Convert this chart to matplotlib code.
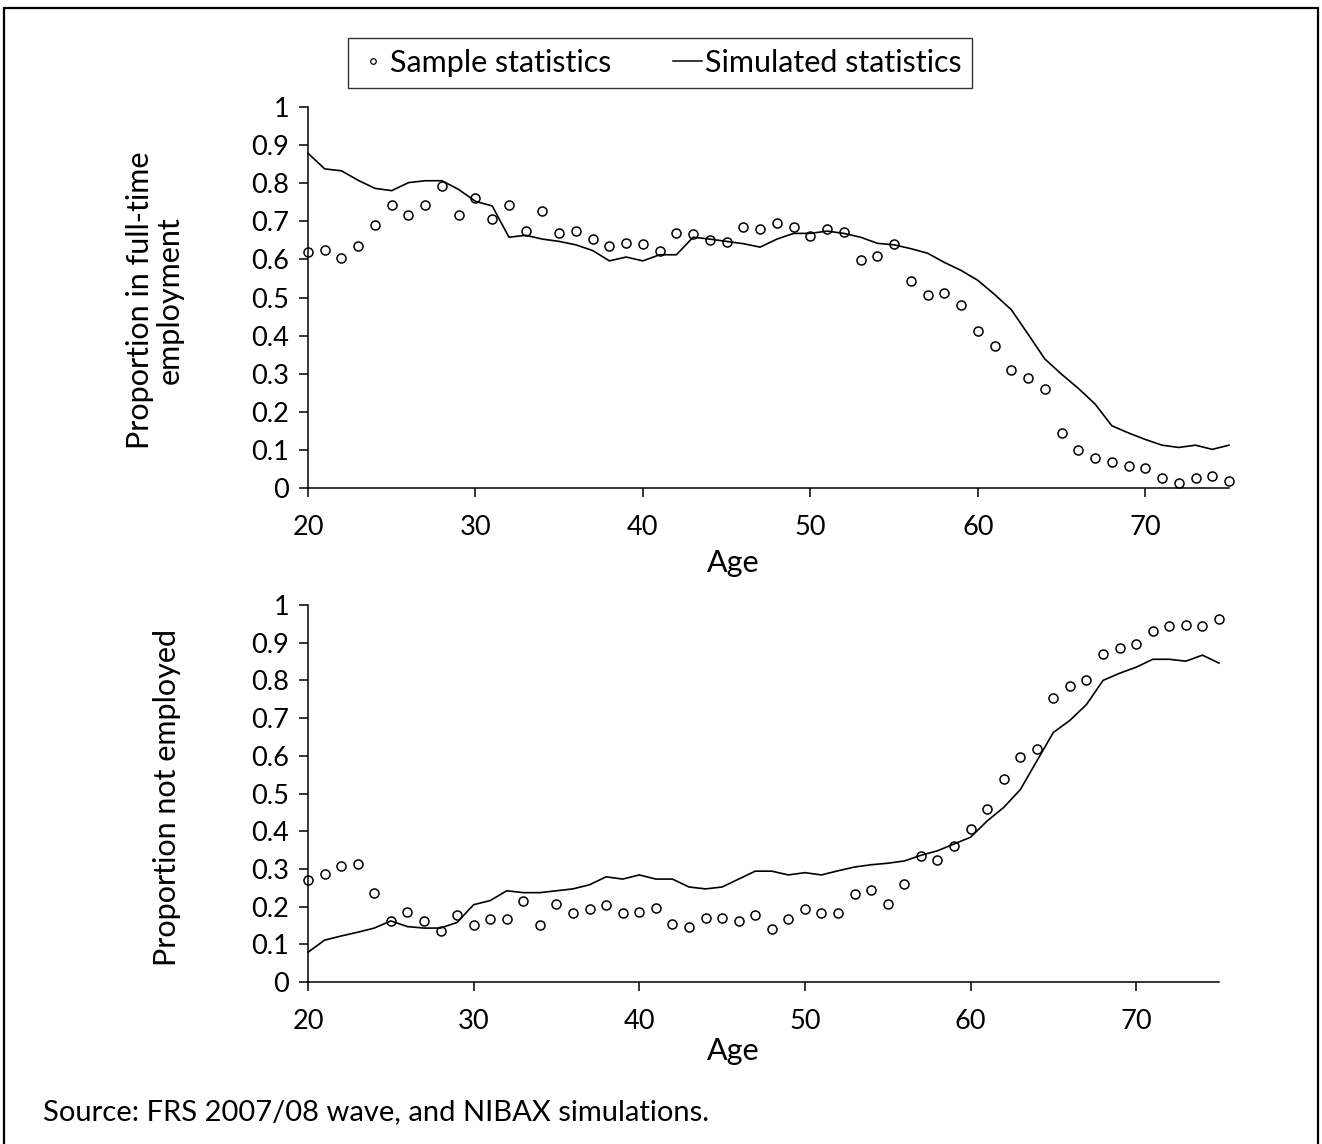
import matplotlib
matplotlib.use("Agg")
import matplotlib.pyplot as plt
from matplotlib.lines import Line2D
from matplotlib.patches import Rectangle

plt.rcParams['font.family'] = ['Lato', 'DejaVu Sans']

ages = list(range(20, 76))

fulltime_sample = [
    0.618, 0.624, 0.603, 0.635, 0.690, 0.742, 0.716, 0.742, 0.793, 0.716,
    0.762, 0.706, 0.742, 0.675, 0.727, 0.670, 0.675, 0.654, 0.635, 0.644,
    0.640, 0.623, 0.670, 0.666, 0.650, 0.645, 0.686, 0.680, 0.696, 0.686,
    0.660, 0.680, 0.671, 0.598, 0.609, 0.640, 0.542, 0.506, 0.511, 0.480,
    0.413, 0.372, 0.311, 0.290, 0.259, 0.146, 0.100, 0.079, 0.069, 0.058,
    0.054, 0.028, 0.013, 0.028, 0.033, 0.020,
]
fulltime_sim = [
    0.878, 0.837, 0.832, 0.807, 0.786, 0.780, 0.801, 0.806, 0.806, 0.783,
    0.752, 0.740, 0.658, 0.663, 0.653, 0.647, 0.638, 0.623, 0.596, 0.606,
    0.596, 0.612, 0.612, 0.658, 0.653, 0.647, 0.641, 0.632, 0.653, 0.668,
    0.668, 0.674, 0.668, 0.658, 0.642, 0.638, 0.628, 0.616, 0.592, 0.571,
    0.545, 0.508, 0.468, 0.404, 0.339, 0.299, 0.262, 0.221, 0.164, 0.145,
    0.128, 0.113, 0.107, 0.113, 0.102, 0.113,
]
notemp_sample = [
    0.271, 0.287, 0.308, 0.313, 0.235, 0.162, 0.187, 0.162, 0.134, 0.177,
    0.150, 0.166, 0.166, 0.214, 0.150, 0.208, 0.182, 0.193, 0.203, 0.182,
    0.187, 0.197, 0.155, 0.145, 0.171, 0.171, 0.161, 0.177, 0.140, 0.166,
    0.193, 0.182, 0.182, 0.234, 0.245, 0.208, 0.260, 0.334, 0.323, 0.360,
    0.407, 0.460, 0.539, 0.597, 0.617, 0.754, 0.786, 0.802, 0.870, 0.885,
    0.896, 0.932, 0.943, 0.948, 0.943, 0.964,
]
notemp_sim = [
    0.079, 0.111, 0.122, 0.132, 0.143, 0.162, 0.147, 0.143, 0.143, 0.158,
    0.205, 0.216, 0.242, 0.237, 0.237, 0.242, 0.247, 0.258, 0.279, 0.273,
    0.284, 0.273, 0.273, 0.252, 0.247, 0.252, 0.273, 0.294, 0.294, 0.284,
    0.290, 0.284, 0.295, 0.305, 0.311, 0.315, 0.321, 0.336, 0.348, 0.366,
    0.384, 0.427, 0.463, 0.510, 0.586, 0.662, 0.694, 0.736, 0.800, 0.819,
    0.835, 0.856, 0.856, 0.851, 0.867, 0.846,
]

x_ticks = [20, 30, 40, 50, 60, 70]
y_ticks = [0, 0.1, 0.2, 0.3, 0.4, 0.5, 0.6, 0.7, 0.8, 0.9, 1]
y_ticklabels = ['0', '0.1', '0.2', '0.3', '0.4', '0.5', '0.6', '0.7', '0.8', '0.9', '1']

W, H = 1322, 1144
fig = plt.figure(figsize=(W / 100, H / 100), dpi=100)

FS_TICK = 19.5
FS_LABEL = 22


def px_axes(x0, x1, y_top, y_bot):
    return fig.add_axes([x0 / W, 1 - y_bot / H, (x1 - x0) / W, (y_bot - y_top) / H])


def style(ax):
    ax.set_xlim(20, 75)
    ax.set_ylim(0, 1)
    ax.set_xticks(x_ticks)
    ax.set_xticklabels([str(t) for t in x_ticks])
    ax.set_yticks(y_ticks)
    ax.set_yticklabels(y_ticklabels)
    for s in ('top', 'right'):
        ax.spines[s].set_visible(False)
    for s in ('left', 'bottom'):
        ax.spines[s].set_linewidth(1.1)
    ax.tick_params(direction='out', length=6.5, width=1.1, labelsize=FS_TICK,
                   colors='black')
    ax.tick_params(axis='x', pad=13)
    ax.tick_params(axis='y', pad=7)
    ax.patch.set_alpha(0)


def draw(ax, sample, sim):
    ax.plot(ages, sim, color='black', lw=1.2, zorder=2, clip_on=False)
    ax.plot(ages, sample, linestyle='none', marker='o', ms=6.5,
            mfc='none', mec='black', mew=1.1, zorder=3, clip_on=False)


ax1 = px_axes(308, 1229, 106.7, 488.3)
style(ax1)
draw(ax1, fulltime_sample, fulltime_sim)

ax2 = px_axes(308, 1219, 605, 982)
style(ax2)
draw(ax2, notemp_sample, notemp_sim)

# axis titles
fig.text(155 / W, 1 - 300 / H, 'Proportion in full-time\nemployment', rotation=90,
         ha='center', va='center', multialignment='center', fontsize=FS_LABEL,
         linespacing=1.1)
fig.text(167 / W, 1 - 797 / H, 'Proportion not employed', rotation=90,
         ha='center', va='center', fontsize=FS_LABEL)
fig.text(733 / W, 1 - 563 / H, 'Age', ha='center', va='center', fontsize=FS_LABEL)
fig.text(733 / W, 1 - 1051 / H, 'Age', ha='center', va='center', fontsize=FS_LABEL)

# source note
fig.text(43 / W, 1 - 1112 / H, 'Source: FRS 2007/08 wave, and NIBAX simulations.',
         ha='left', va='center', fontsize=21)

# legend
handles = [
    Line2D([], [], linestyle='none', marker='o', ms=4, mfc='none', mec='black', mew=0.9),
    Line2D([], [], color='black', lw=1.1),
]
leg = fig.legend(handles, ['Sample statistics', 'Simulated statistics'],
                 loc='center', bbox_to_anchor=(660 / W, 1 - 63 / H), ncol=2,
                 fontsize=22, frameon=True, fancybox=False, handlelength=0.95,
                 handletextpad=0.1, columnspacing=2.0, borderpad=0.35,
                 borderaxespad=0)
leg.get_frame().set_edgecolor('black')
leg.get_frame().set_linewidth(1.0)

# outer frame
fig.patches.append(Rectangle((4 / W, -0.01), (1318 - 4) / W, 1.01 - 8 / H,
                             transform=fig.transFigure, fill=False,
                             edgecolor='black', linewidth=1.6))

fig.savefig('out.png', dpi=100)
